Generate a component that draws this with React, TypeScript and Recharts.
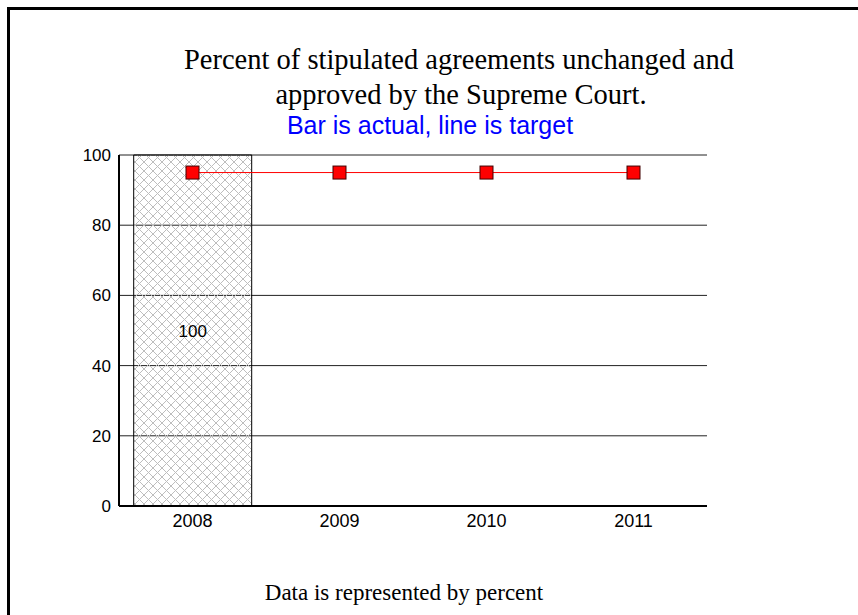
import React from "react";
import {
  ComposedChart,
  Bar,
  Line,
  XAxis,
  YAxis,
  CartesianGrid,
  LabelList,
} from "recharts";

const years = ["2008", "2009", "2010", "2011"];
const actual = [100, null, null, null];
const target = [95, 95, 95, 95];
const yTicks = [0, 20, 40, 60, 80, 100];

const data = years.map((year, i) => ({
  year,
  actual: actual[i],
  target: target[i],
}));

const SquareDot = (props: any) => {
  const { cx, cy } = props;
  if (cx == null || cy == null) return null;
  return (
    <rect
      x={cx - 6.5}
      y={cy - 6.5}
      width={13}
      height={13}
      fill="#ff0000"
      stroke="#400000"
      strokeWidth={1}
    />
  );
};

const sans = "'Liberation Sans', Arial, sans-serif";
const serif = "'Liberation Serif', 'Times New Roman', serif";

const App: React.FC = () => {
  return (
    <div style={{ position: "absolute", left: 0, top: 0, width: 858, height: 615, overflow: "hidden", background: "#fff" }}>
      <svg width={0} height={0} style={{ position: "absolute" }}>
        <defs>
          <pattern id="hatch" width={9} height={9} patternUnits="userSpaceOnUse">
            <path d="M0,0 L9,9 M9,0 L0,9" stroke="#bdbdbd" strokeWidth={1} />
          </pattern>
        </defs>
      </svg>
      <div
        style={{
          position: "absolute",
          left: 7,
          top: 7,
          width: 900,
          height: 700,
          borderLeft: "3px solid #000",
          borderTop: "3px solid #000",
        }}
      />
      <div style={{ position: "absolute", left: 0, top: 0 }}>
        <ComposedChart
          width={858}
          height={615}
          data={data}
          margin={{ top: 155, right: 151, bottom: 79, left: 0 }}
          barCategoryGap="10%"
        >
          <CartesianGrid vertical={false} stroke="#222" strokeWidth={1} />
          <XAxis
            dataKey="year"
            height={30}
            tickLine={false}
            axisLine={{ stroke: "#000", strokeWidth: 2 }}
            tick={{ fontSize: 18, fill: "#000", fontFamily: sans }}
          />
          <XAxis
            xAxisId="top"
            dataKey="year"
            orientation="top"
            height={0}
            tick={false}
            tickLine={false}
            axisLine={{ stroke: "#333", strokeWidth: 2 }}
          />
          <YAxis
            width={119}
            domain={[0, 100]}
            ticks={yTicks}
            tickLine={false}
            axisLine={{ stroke: "#000", strokeWidth: 2 }}
            tick={{ fontSize: 17, fill: "#000", fontFamily: sans }}
          />
          <YAxis
            yAxisId="right"
            orientation="right"
            width={0}
            domain={[0, 100]}
            ticks={yTicks}
            tick={false}
            tickLine={false}
            axisLine={{ stroke: "#777", strokeWidth: 2 }}
          />
          <Bar
            dataKey="actual"
            fill="url(#hatch)"
            stroke="#000"
            strokeWidth={1}
            isAnimationActive={false}
          >
            <LabelList
              dataKey="actual"
              position="center"
              fill="#000"
              fontSize={17}
              fontFamily={sans}
            />
          </Bar>
          <Line
            dataKey="target"
            stroke="#ff0000"
            strokeWidth={1}
            dot={<SquareDot />}
            activeDot={false}
            isAnimationActive={false}
          />
        </ComposedChart>
      </div>
      <svg
        width={858}
        height={615}
        style={{ position: "absolute", left: 0, top: 0, pointerEvents: "none" }}
      >
        <text x={459} y={69} textAnchor="middle" fontFamily={serif} fontSize={28.5} fill="#000">
          Percent of stipulated agreements unchanged and
        </text>
        <text x={461} y={104} textAnchor="middle" fontFamily={serif} fontSize={28.5} fill="#000">
          approved by the Supreme Court.
        </text>
        <text x={430} y={134} textAnchor="middle" fontFamily={sans} fontSize={25} fill="#0000ff">
          Bar is actual, line is target
        </text>
        <text x={404} y={600} textAnchor="middle" fontFamily={serif} fontSize={23} fill="#000">
          Data is represented by percent
        </text>
      </svg>
    </div>
  );
};

export default App;
